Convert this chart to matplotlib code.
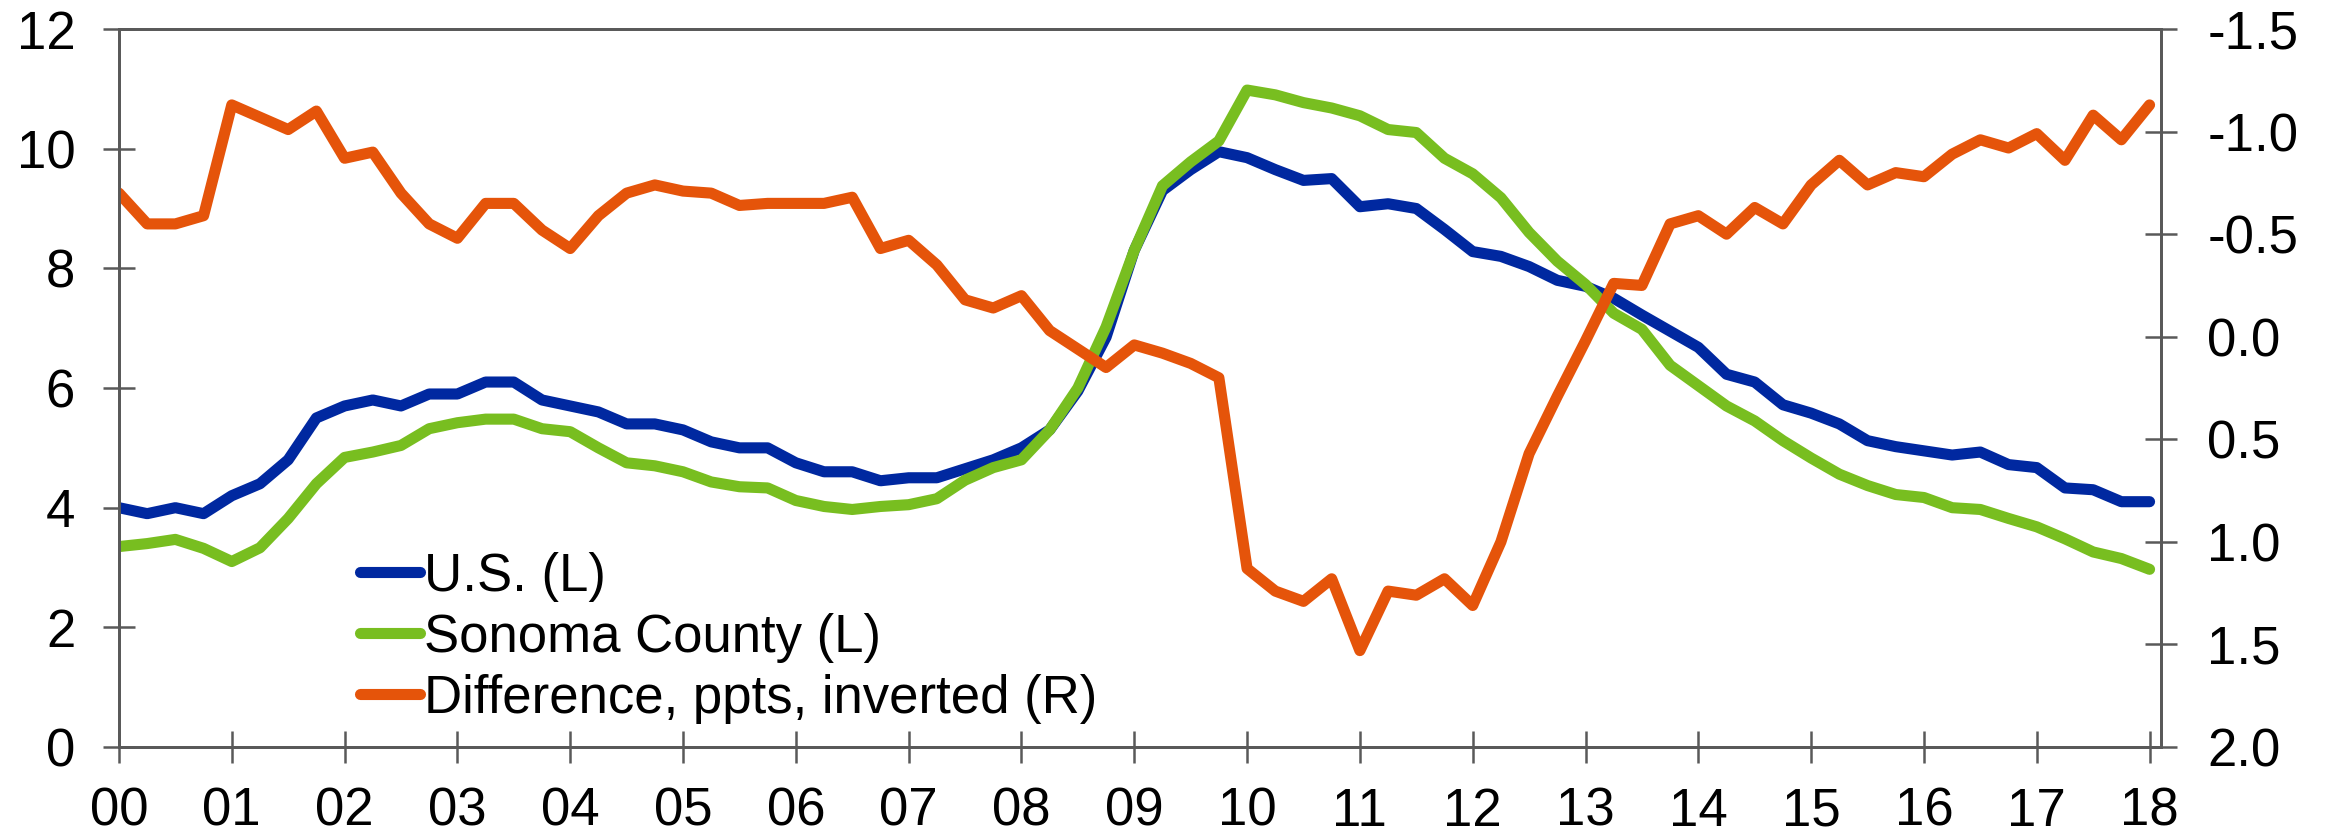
import numpy as np
import matplotlib
matplotlib.use("Agg")
import matplotlib.pyplot as plt
from matplotlib.ticker import FormatStrFormatter

#Quarterly unemployment rates, 2000Q1 - 2018Q1
us = [4.0, 3.9, 4.0, 3.9, 4.2, 4.4, 4.8, 5.5,
      5.7, 5.8, 5.7, 5.9, 5.9, 6.1, 6.1, 5.8,
      5.7, 5.6, 5.4, 5.4, 5.3, 5.1, 5.0, 5.0,
      4.75, 4.6, 4.6, 4.45, 4.5, 4.5, 4.65, 4.8,
      5.0, 5.3, 5.95, 6.85, 8.3, 9.3, 9.65, 9.95,
      9.85, 9.65, 9.47, 9.5, 9.03, 9.08, 9.0, 8.65,
      8.28, 8.2, 8.03, 7.8, 7.7, 7.5, 7.22, 6.95,
      6.68, 6.23, 6.1, 5.72, 5.58, 5.4, 5.12, 5.02,
      4.95, 4.88, 4.93, 4.72, 4.67, 4.33, 4.3, 4.1, 4.1]

sonoma = [3.35, 3.4, 3.47, 3.32, 3.1, 3.33, 3.82, 4.4,
          4.84, 4.93, 5.04, 5.32, 5.42, 5.48, 5.48, 5.32,
          5.27, 5.0, 4.75, 4.7, 4.6, 4.43, 4.35, 4.33,
          4.12, 4.02, 3.97, 4.02, 4.05, 4.15, 4.46, 4.67,
          4.8, 5.3, 6.0, 7.02, 8.3, 9.38, 9.78, 10.13,
          10.98, 10.9, 10.77, 10.68, 10.55, 10.32, 10.27, 9.84,
          9.58, 9.18, 8.6, 8.12, 7.73, 7.25, 6.98, 6.38,
          6.04, 5.7, 5.45, 5.12, 4.83, 4.56, 4.37, 4.22,
          4.17, 4.0, 3.97, 3.82, 3.68, 3.48, 3.26, 3.15, 2.97]

diff = [-0.70, -0.55, -0.55, -0.59, -1.13, -1.07, -1.01, -1.10,
        -0.87, -0.90, -0.70, -0.55, -0.48, -0.65, -0.65, -0.52,
        -0.43, -0.59, -0.70, -0.74, -0.71, -0.70, -0.64, -0.65,
        -0.65, -0.65, -0.68, -0.43, -0.47, -0.35, -0.18, -0.14,
        -0.20, -0.03, 0.06, 0.15, 0.04, 0.08, 0.13, 0.20,
        1.13, 1.24, 1.29, 1.18, 1.53, 1.24, 1.26, 1.18,
        1.31, 1.00, 0.57, 0.29, 0.02, -0.26, -0.25, -0.55,
        -0.59, -0.50, -0.63, -0.55, -0.74, -0.86, -0.74, -0.80,
        -0.78, -0.89, -0.96, -0.92, -0.99, -0.86, -1.08, -0.96, -1.13]

years = list(range(2000, 2019))
year_labels = ["%02d" % (y % 100) for y in years]

#Colours
c_us = "#0028A0"
c_son = "#78BE20"
c_diff = "#E5540A"
c_axis = "#595959"

plt.rcParams['font.family'] = ['Liberation Sans', 'DejaVu Sans']
plt.rcParams['axes.unicode_minus'] = False

t = 2000 + np.arange(len(us)) / 4.0

fig = plt.figure(figsize=(23.28, 8.34), dpi=100)
ax = fig.add_axes([0.0511, 0.1043, 0.8771, 0.8609])
ax2 = ax.twinx()

lw = 8
l1, = ax.plot(t, us, color=c_us, lw=lw, solid_capstyle='round', label="U.S. (L)")
l2, = ax.plot(t, sonoma, color=c_son, lw=lw, solid_capstyle='round', label="Sonoma County (L)")
l3, = ax2.plot(t, diff, color=c_diff, lw=lw, solid_capstyle='round',
               label="Difference, ppts, inverted (R)")

#Axes limits and ticks
ax.set_xlim(2000, 2018.1)
ax.set_ylim(0, 12)
ax.set_yticks(np.arange(0, 13, 2))
ax.set_xticks(years)
ax.set_xticklabels(year_labels)

ax2.set_ylim(2.0, -1.5)
ax2.set_yticks(np.arange(-1.5, 2.01, 0.5))
ax2.yaxis.set_major_formatter(FormatStrFormatter('%.1f'))

for a in (ax, ax2):
    for s in a.spines.values():
        s.set_color(c_axis)
        s.set_linewidth(2)
    a.tick_params(direction='inout', length=23, width=1.8, color=c_axis,
                  labelsize=38, labelcolor='black')
ax.tick_params(axis='y', pad=20)
ax.tick_params(axis='x', pad=17)
ax2.tick_params(axis='y', pad=22)

#Legend
leg = ax2.legend(handles=[l1, l2, l3], loc='upper left', bbox_to_anchor=(0.118, 0.272),
                 frameon=False, fontsize=38, handlelength=1.14, handletextpad=0.08,
                 labelspacing=0.21, borderpad=0, borderaxespad=0)

fig.savefig("out.png", dpi=100)
